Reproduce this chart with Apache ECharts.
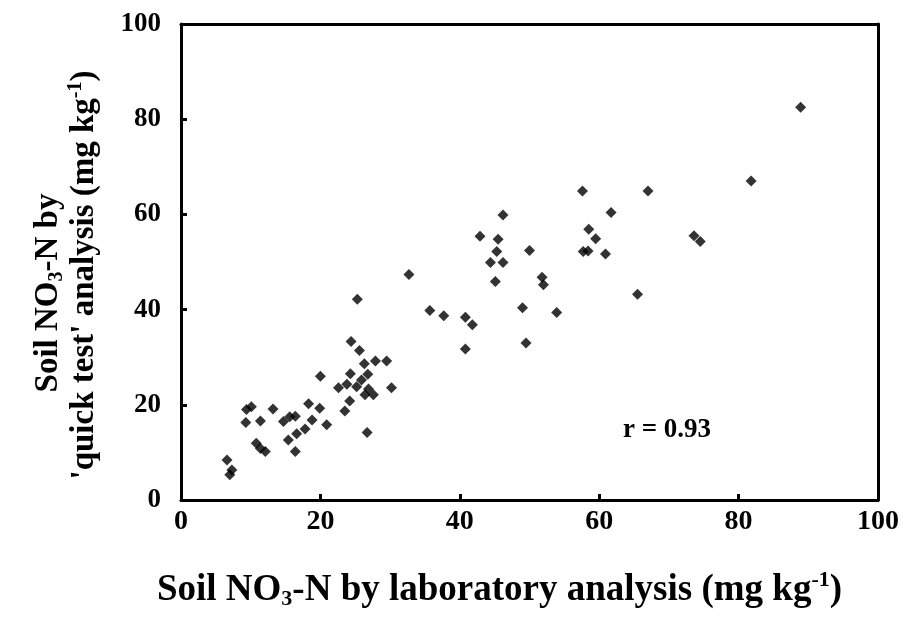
<!DOCTYPE html>
<html>
<head>
<meta charset="utf-8">
<script src="https://cdn.jsdelivr.net/npm/echarts@6/dist/echarts.min.js"></script>
<style>
html,body{margin:0;padding:0;background:#fff;}
#main{width:905px;height:623px;}
</style>
</head>
<body>
<div id="main"></div>
<script>
// Laboratory analysis (x) values, mg/kg
const labValues = [
  6.6, 7.3, 7.0,
  9.4, 10.1, 13.2, 9.3, 11.4,
  10.8, 11.4, 12.1,
  14.7, 15.6, 16.4, 18.3, 17.8, 16.6, 15.4, 16.4,
  18.8, 19.9, 20.9,
  20.0, 22.6, 23.8, 24.3, 25.2, 25.9, 26.8, 26.9, 26.4, 27.6, 30.2, 24.2, 23.5, 26.7,
  24.4, 25.6, 26.3, 27.9, 29.5,
  25.3, 32.7, 35.7, 37.7,
  40.8, 41.8, 40.8, 49.5, 49.0, 53.9,
  45.1, 51.8, 52.0, 44.4, 46.2, 45.3, 50.0, 42.9, 45.5, 46.2,
  57.6, 67.0, 61.7, 58.5, 59.5, 57.7, 58.4, 60.9, 73.6, 74.5, 65.5, 81.8, 88.9
];
// Quick test (y) values, mg/kg
const quickValues = [
  8.4, 6.3, 5.3,
  19.0, 19.6, 19.1, 16.3, 16.6,
  11.9, 10.8, 10.2,
  16.5, 17.5, 17.6, 20.2, 14.9, 13.9, 12.6, 10.2,
  16.8, 19.3, 15.8,
  26.0, 23.6, 24.3, 26.5, 23.8, 25.2, 26.4, 23.3, 22.1, 22.1, 23.6, 20.8, 18.7, 14.2,
  33.3, 31.4, 28.6, 29.2, 29.2,
  42.2, 47.4, 39.8, 38.7,
  38.4, 36.8, 31.7, 33.0, 40.4, 39.4,
  45.9, 46.8, 45.2, 49.9, 49.9, 52.2, 52.4, 55.4, 54.8, 59.9,
  64.9, 64.9, 60.4, 56.9, 54.9, 52.2, 52.3, 51.7, 55.5, 54.3, 43.2, 67.0, 82.5
];
const axisTicks = [0, 20, 40, 60, 80, 100];
const rLabel = 'r = 0.93';

const points = labValues.map((x, i) => [x, quickValues[i]]);
const serif = '"Liberation Serif", "Times New Roman", serif';

function makeRich(size, lh) {
  const small = Math.round(size * 0.6);
  const off = Math.round(size * 0.5);
  return {
    n: {fontFamily: serif, fontWeight: 'bold', fontSize: size, color: '#000', lineHeight: lh, verticalAlign: 'middle'},
    sub: {fontFamily: serif, fontWeight: 'bold', fontSize: small, color: '#000', verticalAlign: 'middle', lineHeight: small, padding: [off, 0, 0, 0]},
    sup: {fontFamily: serif, fontWeight: 'bold', fontSize: small, color: '#000', verticalAlign: 'middle', lineHeight: small, padding: [0, 0, off, 0]},
    gap: {width: 36, lineHeight: lh}
  };
}

const chart = echarts.init(document.getElementById('main'), null, {renderer: 'canvas'});
const axisCommon = {
  type: 'value',
  min: axisTicks[0],
  max: axisTicks[axisTicks.length - 1],
  interval: 20,
  splitLine: {show: false},
  axisLine: {show: true, onZero: false, lineStyle: {color: '#000', width: 3}},
  axisTick: {show: true, inside: true, length: 6, lineStyle: {color: '#000', width: 3}},
  axisLabel: {fontFamily: serif, fontWeight: 'bold', fontSize: 27, color: '#000'}
};
const option = {
  backgroundColor: '#fff',
  animation: false,
  grid: {left: 181, right: 27, top: 24, bottom: 123, show: false},
  xAxis: [
    Object.assign({}, axisCommon, {
      position: 'bottom',
      axisLabel: Object.assign({}, axisCommon.axisLabel, {margin: 8, fontSize: 28}),
      name: '{n|Soil NO}{sub|3}{n|-N by laboratory analysis (mg kg}{sup|-1}{n|)}',
      nameLocation: 'middle',
      nameGap: 71,
      nameTextStyle: {rich: makeRich(37, 38), padding: [0, 60, 0, 0]}
    }),
    Object.assign({}, axisCommon, {
      position: 'top',
      axisTick: {show: false},
      axisLabel: {show: false}
    })
  ],
  yAxis: [
    Object.assign({}, axisCommon, {
      position: 'left',
      axisLabel: Object.assign({}, axisCommon.axisLabel, {margin: 20}),
      name: '{n|Soil NO}{sub|3}{n|-N by}{gap|}\n{n|\'quick test\' analysis (mg kg}{sup|-1}{n|)}',
      nameLocation: 'middle',
      nameRotate: 90,
      nameGap: 79,
      nameTextStyle: {rich: makeRich(33, 36), align: 'center', padding: [0, 26, 0, 0]}
    }),
    Object.assign({}, axisCommon, {
      position: 'right',
      axisTick: {show: false},
      axisLabel: {show: false}
    })
  ],
  graphic: [{
    type: 'text',
    left: 623,
    top: 417,
    style: {text: rLabel, font: 'bold 27px ' + serif, fill: '#000'}
  }],
  series: [{
    type: 'scatter',
    xAxisIndex: 0,
    yAxisIndex: 0,
    symbol: 'diamond',
    symbolSize: 11,
    itemStyle: {color: '#000'},
    data: points
  }]
};
chart.setOption(option);
</script>
</body>
</html>
